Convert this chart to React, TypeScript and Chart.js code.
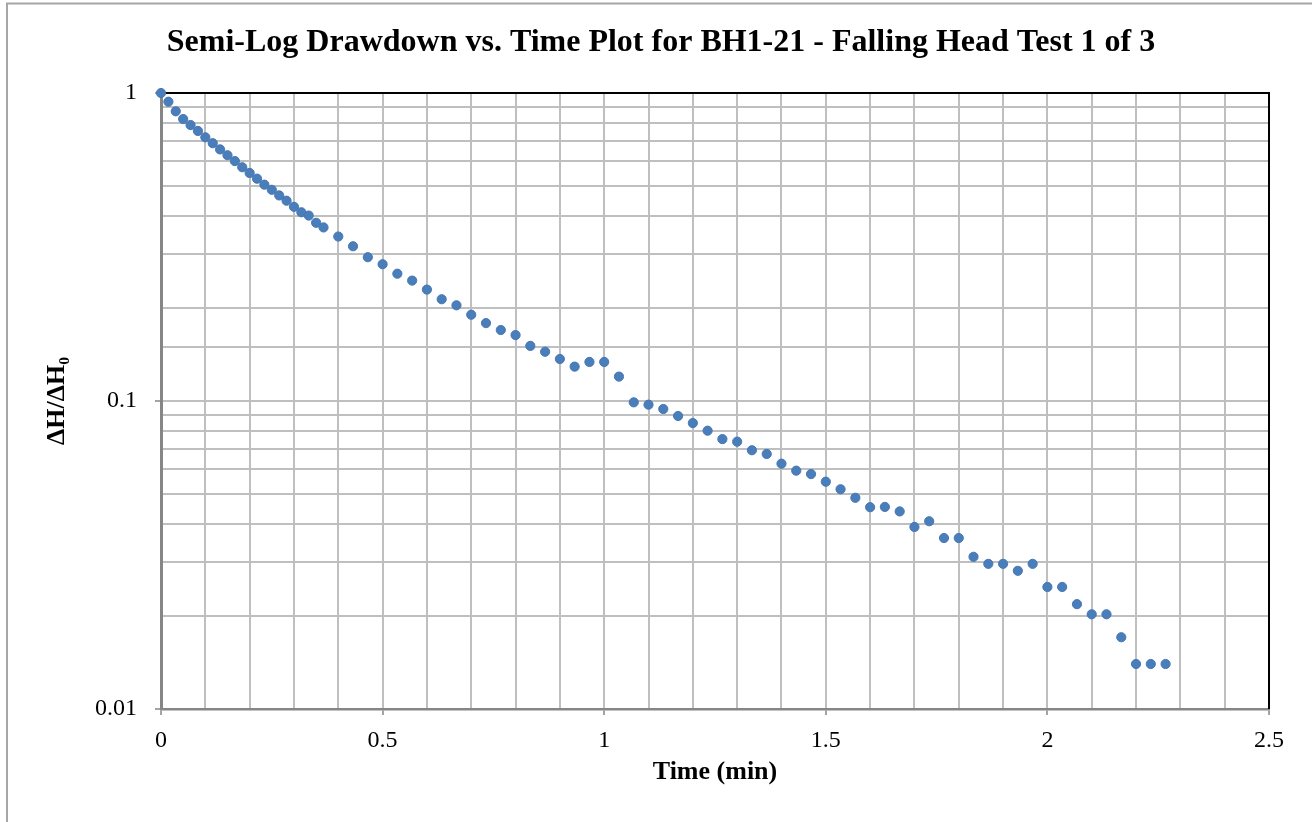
import React, { useEffect, useRef } from "react";
import { Chart, registerables } from "chart.js";

Chart.register(...registerables);

const chartTitle = "Semi-Log Drawdown vs. Time Plot for BH1-21 - Falling Head Test 1 of 3";
const xAxisTitle = "Time (min)";
const yAxisTitle = "ΔH/ΔH₀";

const xTickLabels = ["0", "0.5", "1", "1.5", "2", "2.5"];
const yTickLabels = ["0.01", "0.1", "1"];

const timeMin = [
  0, 0.0167, 0.0333, 0.05, 0.0667, 0.0833, 0.1, 0.1167, 0.1333, 0.15, 0.1667, 0.1833,
  0.2, 0.2167, 0.2333, 0.25, 0.2667, 0.2833, 0.3, 0.3167, 0.3333, 0.35, 0.3667,
  0.4, 0.4333, 0.4667, 0.5, 0.5333, 0.5667, 0.6, 0.6333, 0.6667, 0.7, 0.7333, 0.7667,
  0.8, 0.8333, 0.8667, 0.9, 0.9333, 0.9667, 1.0, 1.0333, 1.0667, 1.1, 1.1333, 1.1667,
  1.2, 1.2333, 1.2667, 1.3, 1.3333, 1.3667, 1.4, 1.4333, 1.4667, 1.5, 1.5333, 1.5667,
  1.6, 1.6333, 1.6667, 1.7, 1.7333, 1.7667, 1.8, 1.8333, 1.8667, 1.9, 1.9333, 1.9667,
  2.0, 2.0333, 2.0667, 2.1, 2.1333, 2.1667, 2.2, 2.2333, 2.2667,
];

const headRatio = [
  1.0, 0.937, 0.872, 0.823, 0.787, 0.753, 0.718, 0.687, 0.656, 0.628, 0.601, 0.574,
  0.55, 0.527, 0.504, 0.485, 0.465, 0.447, 0.427, 0.41, 0.4, 0.379, 0.366,
  0.342, 0.318, 0.293, 0.278, 0.259, 0.246, 0.23, 0.214, 0.2045, 0.1906, 0.179, 0.17,
  0.1637, 0.151, 0.1445, 0.1369, 0.1293, 0.1339, 0.1339, 0.12, 0.099, 0.0973, 0.0942, 0.0894,
  0.0848, 0.0801, 0.0752, 0.0738, 0.0692, 0.0673, 0.0626, 0.0594, 0.0579, 0.0547, 0.0517, 0.0485,
  0.0452, 0.0453, 0.0438, 0.039, 0.0407, 0.0359, 0.0359, 0.0312, 0.0296, 0.0296, 0.0281, 0.0296,
  0.0249, 0.0249, 0.0219, 0.0203, 0.0203, 0.0171, 0.014, 0.014, 0.014,
];

const SERIF = "'Liberation Serif', 'Times New Roman', serif";
const GRID = "#bfbfbf";
const AXIS = "#868686";
const TRANSPARENT = "rgba(0,0,0,0)";

function isXMajor(v: number) {
  return xTickLabels.some((l) => Math.abs(parseFloat(l) - v) < 1e-6);
}
function isYMajor(v: number) {
  return yTickLabels.some((l) => Math.abs(parseFloat(l) - v) < 1e-9);
}

const framePlugin = {
  id: "frame",
  beforeDatasetsDraw(chart: any) {
    const { ctx, chartArea } = chart;
    ctx.save();
    ctx.strokeStyle = "#000000";
    ctx.lineWidth = 2;
    ctx.beginPath();
    ctx.moveTo(chartArea.left, chartArea.top);
    ctx.lineTo(chartArea.right, chartArea.top);
    ctx.lineTo(chartArea.right, chartArea.bottom);
    ctx.stroke();
    ctx.restore();
  },
  afterDraw(chart: any) {
    const { ctx } = chart;
    ctx.save();
    ctx.strokeStyle = "#a6a6a6";
    ctx.lineWidth = 2;
    ctx.strokeRect(7, 3.5, chart.width + 20, chart.height + 20);
    ctx.restore();
  },
};

export default function App() {
  const ref = useRef<HTMLCanvasElement | null>(null);

  useEffect(() => {
    if (!ref.current) return;
    const points = timeMin.map((t, i) => ({ x: t, y: headRatio[i] }));
    const chart = new Chart(ref.current, {
      type: "scatter",
      data: {
        datasets: [
          {
            label: "ΔH/ΔH₀",
            data: points,
            pointRadius: 4.6,
            pointBackgroundColor: "#4a7ebb",
            pointBorderColor: "#4677b3",
            pointBorderWidth: 1,
            showLine: false,
            clip: false as any,
          },
        ],
      },
      options: {
        animation: false,
        responsive: false,
        devicePixelRatio: 1,
        layout: { padding: { left: 10, right: 0, top: 0, bottom: 0 } },
        plugins: {
          legend: { display: false },
          tooltip: { enabled: false },
          title: {
            display: true,
            text: chartTitle,
            color: "#000000",
            font: { family: SERIF, size: 32, weight: "bold", lineHeight: 1.2 },
            padding: { top: 23.8, bottom: 30.8 },
          },
        },
        scales: {
          x: {
            type: "linear",
            min: 0,
            max: 2.5,
            afterFit: (s: any) => {
              s.height = 113;
            },
            ticks: {
              stepSize: 0.1,
              autoSkip: false,
              maxRotation: 0,
              color: "#000000",
              padding: 11.6,
              font: { family: SERIF, size: 24, lineHeight: 1.2 },
              callback: (v: any) => {
                const n = Number(v);
                const lbl = xTickLabels.find((l) => Math.abs(parseFloat(l) - n) < 1e-6);
                return lbl ?? "";
              },
            },
            grid: {
              color: GRID,
              lineWidth: 2,
              drawTicks: true,
              tickLength: 6,
              tickWidth: 1.5,
              tickColor: (c: any) => (c.tick && isXMajor(c.tick.value) ? AXIS : TRANSPARENT),
            },
            border: { display: true, color: AXIS, width: 2.5 },
            title: {
              display: true,
              text: xAxisTitle,
              color: "#000000",
              font: { family: SERIF, size: 26, weight: "bold", lineHeight: 1.2 },
              padding: { top: 4, bottom: 34.4 },
            },
          },
          y: {
            type: "logarithmic",
            min: 0.01,
            max: 1,
            afterFit: (s: any) => {
              s.width = 151;
            },
            ticks: {
              autoSkip: false,
              color: "#000000",
              padding: 18,
              font: { family: SERIF, size: 24, lineHeight: 1.2 },
              callback: (v: any) => {
                const n = Number(v);
                const lbl = yTickLabels.find((l) => Math.abs(parseFloat(l) - n) < 1e-9);
                return lbl ?? "";
              },
            },
            grid: {
              color: GRID,
              lineWidth: 2,
              drawTicks: true,
              tickLength: 6,
              tickWidth: 1.5,
              tickColor: (c: any) => (c.tick && isYMajor(c.tick.value) ? AXIS : TRANSPARENT),
            },
            border: { display: true, color: AXIS, width: 3 },
            title: {
              display: true,
              text: yAxisTitle,
              color: "#000000",
              font: { family: SERIF, size: 26, weight: "bold", lineHeight: 1.2 },
              padding: { top: 31.4, bottom: 0 },
            },
          },
          y2: {
            type: "linear",
            position: "right",
            display: true,
            min: 0,
            max: 1,
            afterFit: (s: any) => {
              s.width = 43;
            },
            ticks: { display: false },
            grid: { display: false, drawOnChartArea: false },
            border: { display: false },
          },
        },
      },
      plugins: [framePlugin],
    });
    return () => chart.destroy();
  }, []);

  return (
    <div style={{ position: "fixed", left: 0, top: 0, width: 1312, height: 822, background: "#ffffff" }}>
      <canvas ref={ref} width={1312} height={822} style={{ display: "block" }} />
    </div>
  );
}
